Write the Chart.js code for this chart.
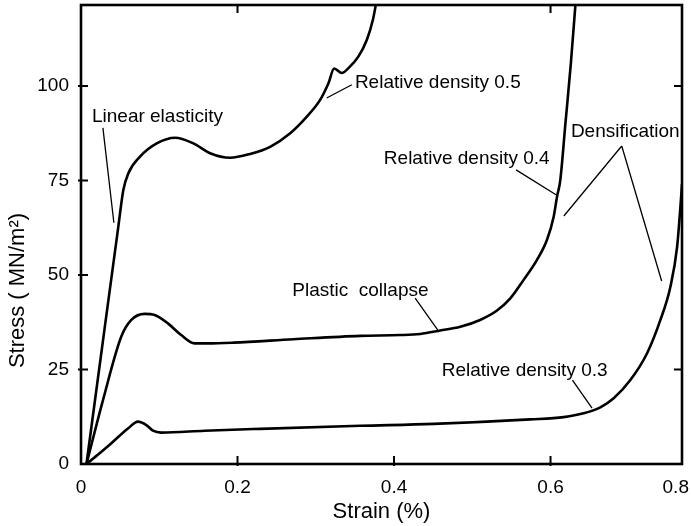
<!DOCTYPE html>
<html>
<head>
<meta charset="utf-8">
<script src="https://cdn.jsdelivr.net/npm/chart.js@4/dist/chart.umd.min.js"></script>
<style>
  html,body{margin:0;padding:0;background:#fff;}
  canvas{display:block;}
</style>
</head>
<body>
<canvas id="grafico" width="691" height="526"></canvas>
<script>
// curvas tensão x deformação (espumas, três densidades relativas)
const STRAIN_05=[0.007,0.028,0.0477,0.0541,0.0605,0.0754,0.0968,0.1202,0.1436,0.165,0.1905,0.216,0.2417,0.2673,0.2886,0.3056,0.3162,0.3235,0.3333,0.3418,0.3546,0.3653,0.373,0.3772];
const STRESS_05=[0,32.5,62.8,72.5,76.9,81.3,84.8,86.3,84.8,82.2,81.0,82.0,83.9,87.5,91.9,96.3,100.7,104.6,103.4,104.7,107.8,112.2,117.5,121.9];

const STRAIN_04=[0.007,0.0281,0.0515,0.0643,0.0814,0.094,0.111,0.128,0.145,0.162,0.1948,0.2715,0.3568,0.408,0.4335,0.459,0.4847,0.510,0.5316,0.5486,0.5656,0.5827,0.5955,0.604,0.6083,0.6125,0.619,0.626,0.632];
const STRESS_04=[0,16.9,33.7,38.1,39.7,39.4,37.2,34.1,31.9,31.9,32.1,33.0,33.9,34.1,34.4,35.3,36.3,38.1,40.6,43.8,48.7,54.0,59.3,65.4,70.7,75.1,90.0,106.0,122.0];

const STRAIN_03=[0.007,0.023,0.0388,0.060,0.0729,0.0835,0.092,0.1027,0.158,0.229,0.3568,0.4505,0.574,0.6168,0.6423,0.6637,0.6807,0.702,0.7234,0.7404,0.7532,0.7618,0.766,0.768];
const STRESS_03=[0,2.7,5.5,9.4,11.2,10.3,8.8,8.3,8.8,9.3,10.1,10.6,11.8,12.4,13.4,15.0,17.4,22.2,29.3,38.1,46.9,57.5,68.1,74.0];

const X_TICKS=[0,0.2,0.4,0.6,0.8];
const X_LABELS=['0','0.2','0.4','0.6','0.8'];
const Y_TICKS=[0,25,50,75,100];
const X_MAX=0.768, Y_MAX=121.4;

// anotações (coordenadas em unidades dos eixos)
const NOTAS=[
  {t:'Linear elasticity',x:0.014,y:91.8},
  {t:'Relative density 0.5',x:0.350,y:100.8},
  {t:'Relative density 0.4',x:0.387,y:80.7},
  {t:'Densification',x:0.626,y:87.8},
  {t:'Plastic  collapse',x:0.270,y:45.8},
  {t:'Relative density 0.3',x:0.461,y:24.6},
];
const SETAS=[
  [0.028,88.9,0.042,63.8],
  [0.346,100.3,0.314,96.8],
  [0.556,77.8,0.607,71.2],
  [0.691,84.1,0.617,65.6],
  [0.691,84.1,0.742,48.4],
  [0.427,43.9,0.456,35.4],
  [0.628,22.2,0.653,14.8],
];

const FONTE='"Liberation Sans", Arial, Helvetica, sans-serif';

function pares(xs,ys){return xs.map((x,i)=>({x,y:ys[i]}));}
function serie(xs,ys){return {data:pares(xs,ys),showLine:true,borderColor:'#000',borderWidth:2.6,pointRadius:0,cubicInterpolationMode:'monotone',fill:false};}

const moldura={
  id:'moldura',
  afterDatasetsDraw(chart){
    const {ctx,chartArea:a,scales:{x,y}}=chart;
    ctx.save();
    ctx.strokeStyle='#000';
    ctx.lineWidth=2.6;
    ctx.strokeRect(a.left,a.top,a.right-a.left,a.bottom-a.top);
    ctx.lineWidth=2;
    ctx.beginPath();
    [25,50,75,100].forEach(v=>{const p=y.getPixelForValue(v);ctx.moveTo(a.left-3,p);ctx.lineTo(a.left+7,p);});
    [0.2,0.4,0.6].forEach(v=>{const p=x.getPixelForValue(v);ctx.moveTo(p,a.bottom+2);ctx.lineTo(p,a.bottom-8);});
    [0.2,0.6].forEach(v=>{const p=x.getPixelForValue(v);ctx.moveTo(p,a.top);ctx.lineTo(p,a.top+8);});
    [25,100].forEach(v=>{const p=y.getPixelForValue(v);ctx.moveTo(a.right,p);ctx.lineTo(a.right-8,p);});
    ctx.stroke();
    ctx.fillStyle='#000';
    // título do eixo y, centrado um pouco abaixo do meio
    ctx.save();
    ctx.translate(18,(a.top+a.bottom)/2+56);
    ctx.rotate(-Math.PI/2);
    ctx.font='22px '+FONTE;
    ctx.textAlign='center';ctx.textBaseline='middle';
    ctx.fillText('Stress ( MN/m²)',0,0);
    ctx.restore();
    // textos
    ctx.font='19px '+FONTE;
    ctx.textBaseline='middle';ctx.textAlign='left';
    NOTAS.forEach(n=>ctx.fillText(n.t,x.getPixelForValue(n.x),y.getPixelForValue(n.y)));
    ctx.lineWidth=1.3;
    ctx.beginPath();
    SETAS.forEach(s=>{ctx.moveTo(x.getPixelForValue(s[0]),y.getPixelForValue(s[1]));ctx.lineTo(x.getPixelForValue(s[2]),y.getPixelForValue(s[3]));});
    ctx.stroke();
    ctx.restore();
  }
};

new Chart(document.getElementById('grafico'),{
  type:'scatter',
  data:{datasets:[serie(STRAIN_05,STRESS_05),serie(STRAIN_04,STRESS_04),serie(STRAIN_03,STRESS_03)]},
  options:{
    responsive:false,animation:false,
    layout:{padding:{top:5,right:9,left:0,bottom:0}},
    plugins:{legend:{display:false},tooltip:{enabled:false}},
    scales:{
      x:{type:'linear',min:0,max:X_MAX,
        grid:{display:false,drawTicks:false},border:{display:false},
        afterBuildTicks:s=>{s.ticks=X_TICKS.map(v=>({value:Math.min(v,X_MAX-0.008)}));},
        ticks:{callback:(v,i)=>X_LABELS[i],padding:12,color:'#000',font:{family:FONTE,size:19},maxRotation:0,autoSkip:false},
        title:{display:true,text:'Strain (%)',color:'#000',font:{family:FONTE,size:22},padding:{top:0,bottom:1}},
        afterFit:s=>{s.height=62;s.paddingLeft=0;s.paddingRight=0;}},
      y:{type:'linear',min:0,max:Y_MAX,
        grid:{display:false,drawTicks:false},border:{display:false},
        afterBuildTicks:s=>{s.ticks=Y_TICKS.map(v=>({value:v}));},
        ticks:{padding:12,color:'#000',font:{family:FONTE,size:19},autoSkip:false},
        afterFit:s=>{s.width=81;s.paddingTop=0;s.paddingBottom=0;}}
    }
  },
  plugins:[moldura]
});
</script>
</body>
</html>
